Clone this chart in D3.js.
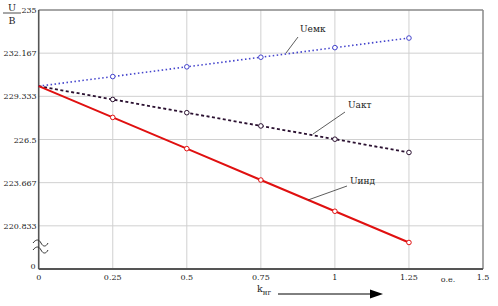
<!DOCTYPE html>
<html>
<head>
<meta charset="utf-8">
<script src="https://cdn.jsdelivr.net/npm/d3@7"></script>
<style>
  body { margin: 0; background: #fff; }
  svg { display: block; }
  svg text { font-family: "DejaVu Serif", serif; }
</style>
</head>
<body>
<svg id="chart" width="498" height="306"></svg>
<script>
const kValues = [0, 0.25, 0.5, 0.75, 1, 1.25]
const uEmk = [230, 230.63, 231.27, 231.9, 232.53, 233.16]
const uAkt = [230, 229.13, 228.26, 227.39, 226.52, 225.65]
const uInd = [230, 227.95, 225.9, 223.84, 221.79, 219.74]
const xTicks = [0, 0.25, 0.5, 0.75, 1, 1.25, 1.5]
const yTicks = [220.833, 223.667, 226.5, 229.333, 232.167, 235]

const series = [
    { name: "Uемк", values: uEmk, color: "#4444cc", dash: "1.5,2.5", width: 1.6, label: [300, 32], lead: [[286, 53], [298, 37]] },
    { name: "Uакт", values: uAkt, color: "#2a1030", dash: "3,2.5", width: 1.8, label: [348, 108], lead: [[313, 134], [345, 112]] },
    { name: "Uинд", values: uInd, color: "#e01010", dash: null, width: 2, label: [350, 184], lead: [[308, 200], [347, 186]] }
]

const svg = d3.select("#chart")
const x = d3.scaleLinear().domain([0, 1.5]).range([38.7, 483])
const y = d3.scaleLinear().domain([218, 235]).range([269, 10])
const ink = "#222"

// grid
svg.append("g").selectAll("line")
    .data(xTicks.slice(1, -1))
    .join("line")
    .attr("x1", d => x(d)).attr("x2", d => x(d))
    .attr("y1", y(235)).attr("y2", y(218))
    .attr("stroke", "#d0d0d0").attr("stroke-width", 1)
svg.append("g").selectAll("line")
    .data(yTicks.slice(0, -1))
    .join("line")
    .attr("x1", x(0)).attr("x2", x(1.5))
    .attr("y1", d => y(d)).attr("y2", d => y(d))
    .attr("stroke", "#d0d0d0").attr("stroke-width", 1)

// frame
svg.append("line").attr("x1", x(0)).attr("x2", x(1.5)).attr("y1", y(235)).attr("y2", y(235))
    .attr("stroke", "#888").attr("stroke-width", 1.5)
svg.append("line").attr("x1", x(1.5)).attr("x2", x(1.5)).attr("y1", y(235)).attr("y2", y(218))
    .attr("stroke", "#888").attr("stroke-width", 1.5)
svg.append("line").attr("x1", x(0)).attr("x2", x(0)).attr("y1", y(235)).attr("y2", y(218))
    .attr("stroke", "#555").attr("stroke-width", 1.6)
svg.append("line").attr("x1", x(0)).attr("x2", x(1.5)).attr("y1", y(218)).attr("y2", y(218))
    .attr("stroke", "#555").attr("stroke-width", 2)

// tick labels
svg.append("g").selectAll("text")
    .data(yTicks)
    .join("text")
    .attr("x", x(0) - 2).attr("y", d => y(d) + 3)
    .attr("text-anchor", "end").attr("font-size", 8).attr("fill", ink)
    .text(d => d3.format(".3~f")(d))
svg.append("text").attr("x", x(0) - 3).attr("y", y(218) - 0)
    .attr("text-anchor", "end").attr("font-size", 8).attr("fill", ink).text("0")
svg.append("g").selectAll("text")
    .data(xTicks)
    .join("text")
    .attr("x", d => x(d)).attr("y", y(218) + 11)
    .attr("text-anchor", "middle").attr("font-size", 8).attr("fill", ink)
    .text(d => d)
svg.append("text").attr("x", 448).attr("y", 282).attr("text-anchor", "middle")
    .attr("font-size", 8).attr("fill", ink).text("o.e.")

// axis break marks
const tilde = "M0,0 C3,-4 6,-4 8,0 C10,4 13,4 15,0"
svg.append("path").attr("d", tilde).attr("transform", "translate(33,243)")
    .attr("fill", "none").attr("stroke", "#333").attr("stroke-width", 1)
svg.append("path").attr("d", tilde).attr("transform", "translate(33,250)")
    .attr("fill", "none").attr("stroke", "#333").attr("stroke-width", 1)

// y unit U/B
svg.append("text").attr("x", 12).attr("y", 11).attr("text-anchor", "middle").attr("font-size", 9.5).attr("fill", ink).text("U")
svg.append("line").attr("x1", 3).attr("x2", 21).attr("y1", 13).attr("y2", 13).attr("stroke", ink).attr("stroke-width", 0.8)
svg.append("text").attr("x", 12).attr("y", 23.5).attr("text-anchor", "middle").attr("font-size", 9.5).attr("fill", ink).text("B")

// x label k_нг with arrow
const kl = svg.append("text").attr("x", 257).attr("y", 292).attr("font-size", 9.5).attr("fill", ink)
kl.append("tspan").text("k")
kl.append("tspan").attr("dy", 3).attr("font-size", 7).text("нг")
svg.append("line").attr("x1", 278).attr("x2", 372).attr("y1", 294).attr("y2", 294)
    .attr("stroke", "#000").attr("stroke-width", 1)
svg.append("path").attr("d", "M370,289.5 L383,294 L370,298.5 Z").attr("fill", "#000")

// series
const line = d3.line().x((d, i) => x(kValues[i])).y(d => y(d))
series.forEach(s => {
    svg.append("path").attr("d", line(s.values))
        .attr("fill", "none").attr("stroke", s.color)
        .attr("stroke-width", s.width)
        .attr("stroke-dasharray", s.dash)
    svg.append("g").selectAll("circle")
        .data(s.values.slice(1))
        .join("circle")
        .attr("cx", (d, i) => x(kValues[i + 1])).attr("cy", d => y(d))
        .attr("r", 2.3).attr("fill", "#fff")
        .attr("stroke", s.color).attr("stroke-width", 1)
    svg.append("line")
        .attr("x1", s.lead[0][0]).attr("y1", s.lead[0][1])
        .attr("x2", s.lead[1][0]).attr("y2", s.lead[1][1])
        .attr("stroke", "#333").attr("stroke-width", 0.8)
    svg.append("text").attr("x", s.label[0]).attr("y", s.label[1])
        .attr("font-size", 9).attr("fill", ink).text(s.name)
})
</script>
</body>
</html>
